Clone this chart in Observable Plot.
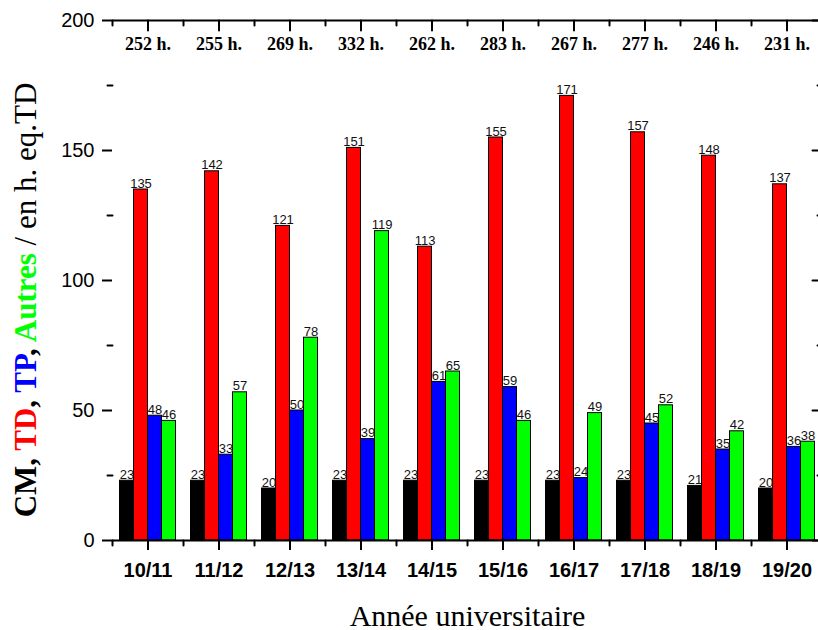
<!DOCTYPE html>
<html><head><meta charset="utf-8">
<script src="https://cdn.jsdelivr.net/npm/d3@7"></script>
<script src="https://cdn.jsdelivr.net/npm/@observablehq/plot@0.6"></script>
<style>
html,body{margin:0;padding:0;background:#fff;overflow:hidden;}
</style></head><body><div id="chart"></div>
<script>
const years = ["10/11","11/12","12/13","13/14","14/15","15/16","16/17","17/18","18/19","19/20"];
const series = ["CM","TD","TP","Autres"];
const colors = ["#000000","#ff0000","#0000ff","#00ff00"];
const cm = [23,23,20,23,23,23,23,23,21,20];
const td = [135,142,121,151,113,155,171,157,148,137];
const tp = [48,33,50,39,61,59,24,45,35,36];
const autres = [46,57,78,119,65,46,49,52,42,38];
const totals = [252,255,269,332,262,283,267,277,246,231];
const yTicks = [0,50,100,150,200];
const yMinor = [25,75,125,175];

const values = {CM: cm, TD: td, TP: tp, Autres: autres};
const data = years.flatMap((year, i) => series.map(s => ({year, series: s, value: values[s][i]})));
const totalRows = years.map((year, i) => ({year, total: totals[i]}));

const sans = "'Liberation Sans', Arial, sans-serif";
const serif = "'Liberation Serif', 'Times New Roman', serif";
// a plain tick line: from the anchor point, length l, pointing "up" before rotation
const tickShape = {draw(context, l) { context.moveTo(0, 0); context.lineTo(0, -l); }};
const tick = {anchor: "start", shape: tickShape, stroke: "#000", strokeWidth: 2};

const plot = Plot.plot({
  width: 818, height: 630,
  marginTop: 20, marginBottom: 90, marginLeft: 111.5, marginRight: 0,
  style: {fontFamily: sans, color: "#000", background: "#fff", overflow: "hidden"},
  fx: {domain: years, range: [111.5, 821.5], padding: 0, label: null},
  x: {domain: series, paddingInner: 0, paddingOuter: 0.44, axis: null},
  y: {domain: [0, 200], label: null, axis: null},
  color: {domain: series, range: colors},
  marks: [
    Plot.barY(data, {fx: "year", x: "series", y: "value", fill: "series", stroke: "#000", strokeWidth: 1}),
    Plot.text(data, {fx: "year", x: "series", y: "value", text: d => String(d.value), lineAnchor: "bottom", dy: -2, fontSize: 13, fill: "#111", fontFamily: sans}),
    Plot.text(totalRows, {fx: "year", text: d => `${d.total} h.`, frameAnchor: "top", lineAnchor: "bottom", dy: 29, fontSize: 18, fontWeight: "bold", fontFamily: serif, fill: "#000"}),
    Plot.ruleY([0, 200], {stroke: "#000", strokeWidth: 2}),
    // left axis: major ticks with labels
    Plot.axisY({anchor: "left", ticks: yTicks, tickSize: 10, tickPadding: 8, fontSize: 20, fontFamily: sans, label: null, line: true, strokeWidth: 2}),
    // left minor ticks (outward)
    Plot.vector(yMinor, {y: d => d, frameAnchor: "left", facetAnchor: "left", rotate: -90, length: 5, ...tick}),
    // right axis: inward ticks, no labels
    Plot.vector(yTicks, {y: d => d, frameAnchor: "right", facetAnchor: "right", rotate: -90, length: 10, ...tick}),
    Plot.vector(yMinor, {y: d => d, frameAnchor: "right", facetAnchor: "right", rotate: -90, length: 5, ...tick}),
    // bottom axis: outward ticks at centres, labels
    Plot.axisFx({anchor: "bottom", tickSize: 10, tickPadding: 12, fontSize: 20, fontWeight: "bold", fontFamily: sans, label: null, strokeWidth: 2}),
    // top axis: inward ticks at centres
    Plot.vector([0], {frameAnchor: "top", rotate: 180, length: 10, ...tick}),
    // minor ticks at the boundaries between years (top inward, bottom outward)
    Plot.vector([0], {frameAnchor: "bottom-left", rotate: 180, length: 5, ...tick}),
    Plot.vector([0], {frameAnchor: "top-left", rotate: 180, length: 5, ...tick}),
    Plot.text(["Année universitaire"], {facet: "super", text: d => d, frameAnchor: "bottom", lineAnchor: "bottom", dy: 85, fontSize: 30, fontFamily: serif, fill: "#000"})
  ]
});
document.getElementById("chart").appendChild(plot);

// Multi-coloured y-axis title
const yTitleParts = [
  {t: "CM, ", c: "#000", w: "bold"},
  {t: "TD", c: "#ff0000", w: "bold"},
  {t: ", ", c: "#000", w: "bold"},
  {t: "TP", c: "#0000ff", w: "bold"},
  {t: ", ", c: "#000", w: "bold"},
  {t: "Autres", c: "#00ff00", w: "bold"},
  {t: " / en h. eq.TD", c: "#000", w: "normal"}
];
const svg = d3.select(plot.tagName.toLowerCase() === "svg" ? plot : plot.querySelector("svg"));
const yt = svg.append("text")
  .attr("transform", "translate(36,300) rotate(-90)")
  .attr("text-anchor", "middle")
  .attr("font-family", serif)
  .attr("font-size", 31);
yt.selectAll("tspan").data(yTitleParts).join("tspan")
  .attr("fill", d => d.c).attr("font-weight", d => d.w)
  .style("white-space", "pre")
  .text(d => d.t);
</script></body></html>
